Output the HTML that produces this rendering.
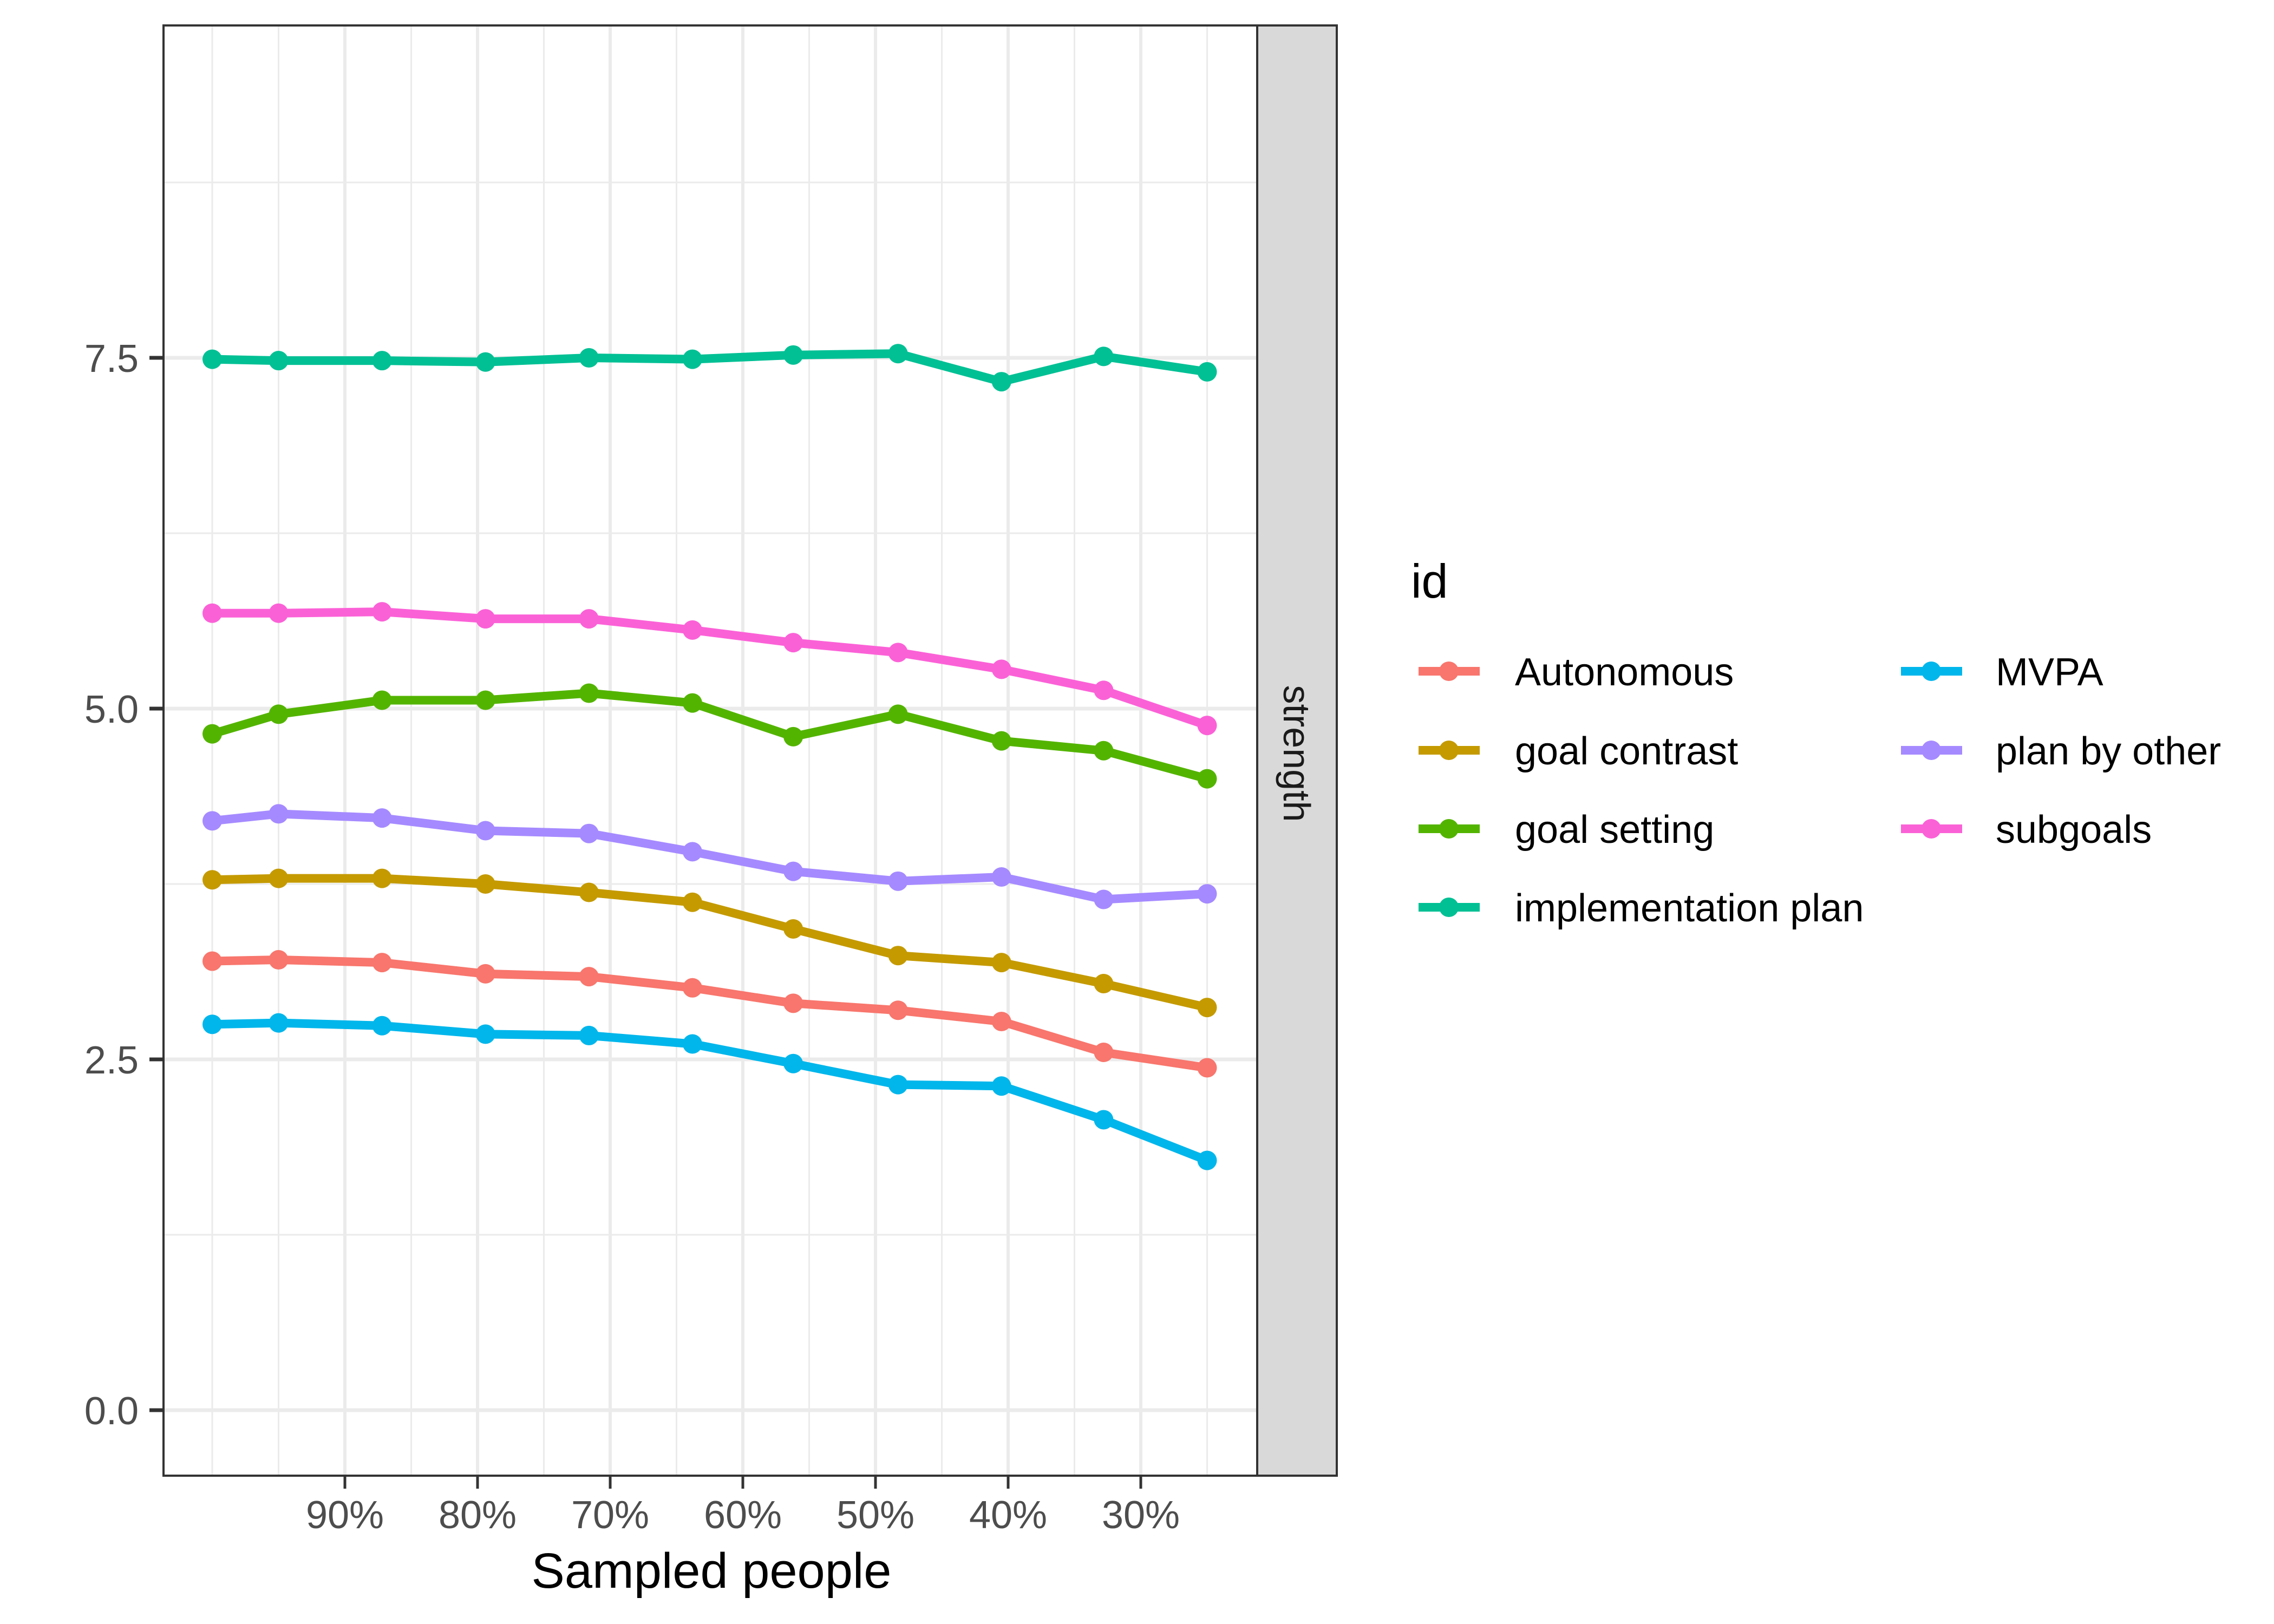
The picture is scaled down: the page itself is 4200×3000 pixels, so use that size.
<!DOCTYPE html>
<html><head><meta charset="utf-8"><style>
html,body{margin:0;padding:0;background:#fff;}
svg{display:block;font-family:"Liberation Sans",Arial,sans-serif;}
</style></head><body>
<svg id="chart" width="4200" height="3000" viewBox="0 0 4200 3000" xmlns="http://www.w3.org/2000/svg">
<rect x="0" y="0" width="4200" height="3000" fill="#fff"/>
<g id="grid"></g>
<g id="series"></g>
<g id="axes"></g>
<rect x="302" y="47" width="2020" height="2679" fill="none" stroke="#333" stroke-width="4"/>
<rect x="2322" y="47" width="147" height="2679" fill="#d9d9d9" stroke="#333" stroke-width="4"/>
<text x="2395" y="1392" font-size="70" fill="#1a1a1a" text-anchor="middle" dominant-baseline="central" transform="rotate(90 2395 1392)">strength</text>
<text x="1314" y="2933" font-size="92" fill="#000" text-anchor="middle">Sampled people</text>
<text x="2606" y="1104" font-size="88" fill="#000">id</text>
<g id="legend"></g>
</svg>
<script>
const xVals = [100, 95, 87.2, 79.4, 71.6, 63.8, 56.2, 48.3, 40.5, 32.8, 25.0];
const seriesNames = ["Autonomous","goal contrast","goal setting","implementation plan","MVPA","plan by other","subgoals"];
const seriesColors = ["#F8766D","#C49A00","#53B400","#00C094","#00B6EB","#A58AFF","#FB61D7"];
const autonomous = [3.20,3.21,3.19,3.11,3.09,3.01,2.90,2.85,2.77,2.55,2.44];
const goalContrast = [3.78,3.79,3.79,3.75,3.69,3.62,3.43,3.24,3.19,3.04,2.87];
const goalSetting = [4.82,4.96,5.06,5.06,5.11,5.04,4.80,4.96,4.77,4.70,4.50];
const implementationPlan = [7.49,7.48,7.48,7.47,7.50,7.49,7.52,7.53,7.33,7.51,7.40];
const mvpa = [2.75,2.76,2.74,2.68,2.67,2.61,2.47,2.32,2.31,2.07,1.78];
const planByOther = [4.20,4.25,4.22,4.13,4.11,3.98,3.84,3.77,3.80,3.64,3.68];
const subgoals = [5.68,5.68,5.69,5.64,5.64,5.56,5.47,5.40,5.28,5.13,4.88];
const yTicks = [0, 2.5, 5.0, 7.5];
const yTickLabels = ["0.0","2.5","5.0","7.5"];
const yMinor = [1.25, 3.75, 6.25, 8.75];
const xTicks = [90,80,70,60,50,40,30];
const xTickLabels = ["90%","80%","70%","60%","50%","40%","30%"];
const xMinor = [100,95,85,75,65,55,45,35,25];

const NS = "http://www.w3.org/2000/svg";
function X(p){ return 637 + (90 - p) * 24.5; }
function Y(v){ return 2605 - v * 259.2; }
function mk(tag, attrs, parent){ const e=document.createElementNS(NS,tag); for(const k in attrs) e.setAttribute(k, attrs[k]); parent.appendChild(e); return e; }

const grid = document.getElementById('grid');
const axes = document.getElementById('axes');
yMinor.forEach(v=>{ const l=mk('line',{x1:302,x2:2322,y1:Y(v),y2:Y(v),stroke:'#ebebeb','stroke-width':3},grid);

 });
xMinor.forEach(p=>{ const l=mk('line',{x1:X(p),x2:X(p),y1:47,y2:2726,stroke:'#ebebeb','stroke-width':3},grid);

 });
yTicks.forEach((v,i)=>{ const l=mk('line',{x1:302,x2:2322,y1:Y(v),y2:Y(v),stroke:'#ebebeb','stroke-width':7},grid);


const t=mk('line',{x1:276,x2:302,y1:Y(v),y2:Y(v),stroke:'#333','stroke-width':7},axes);


const tx=mk('text',{x:256,y:Y(v)+26,'font-size':72,fill:'#4d4d4d','text-anchor':'end'},axes); tx.textContent=yTickLabels[i];

 });
xTicks.forEach((p,i)=>{ const l=mk('line',{x1:X(p),x2:X(p),y1:47,y2:2726,stroke:'#ebebeb','stroke-width':6},grid);


const t=mk('line',{x1:X(p),x2:X(p),y1:2726,y2:2750,stroke:'#333','stroke-width':5},axes);


const tx=mk('text',{x:X(p),y:2823,'font-size':72,fill:'#4d4d4d','text-anchor':'middle'},axes); tx.textContent=xTickLabels[i];

 });

const allSeries=[autonomous,goalContrast,goalSetting,implementationPlan,mvpa,planByOther,subgoals];
const sg=document.getElementById('series');
allSeries.forEach((vals,si)=>{
  const g=mk('g',{},sg);
  
  
  const pts=vals.map((v,i)=>X(xVals[i])+','+Y(v)).join(' ');
  const pl=mk('polyline',{points:pts,fill:'none',stroke:seriesColors[si],'stroke-width':16,'stroke-linejoin':'round'},g);
  
  
  vals.forEach((v,i)=>{ const c=mk('circle',{cx:X(xVals[i]),cy:Y(v),r:18,fill:seriesColors[si]},g);
  
   });
});

const lg=document.getElementById('legend');
const rows=[1240,1386,1531,1676];
seriesNames.forEach((n,i)=>{
  const col = i<4?0:1; const row = i<4?i:i-4;
  const kx = col===0?2620:3511; const tx0 = col===0?2798:3686; const y=rows[row];
  const g=mk('g',{},lg);
  
  
  mk('line',{x1:kx,x2:kx+113,y1:y,y2:y,stroke:seriesColors[i],'stroke-width':16},g);
  mk('circle',{cx:kx+56,cy:y,r:18,fill:seriesColors[i]},g);
  const t=mk('text',{x:tx0,y:y+26,'font-size':72,fill:'#000'},g); t.textContent=n;
});
</script>
</body></html>
